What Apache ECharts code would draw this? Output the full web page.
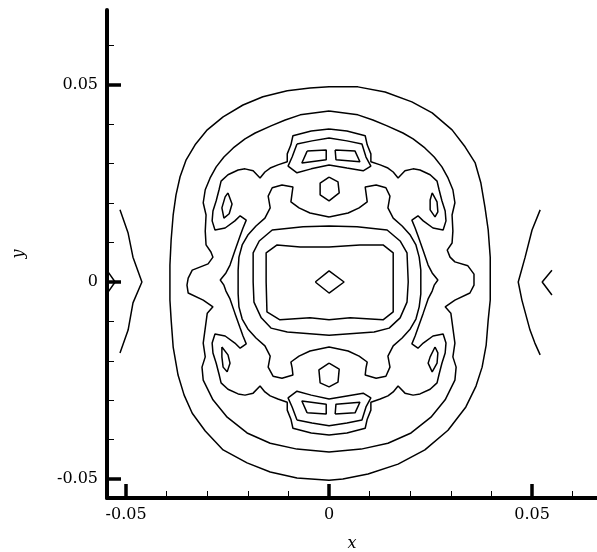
<!DOCTYPE html>
<html>
<head>
<meta charset="utf-8">
<script src="https://cdn.jsdelivr.net/npm/echarts@6/dist/echarts.min.js"></script>
<style>
  html, body { margin: 0; padding: 0; background: #fff; }
  #chart { width: 597px; height: 552px; }
</style>
</head>
<body>
<div id="chart"></div>
<script>
// Tick positions (data units)
const xMajorTicks = [-0.05, 0, 0.05];
const xMinorTicks = [-0.04, -0.03, -0.02, -0.01, 0.01, 0.02, 0.03, 0.04, 0.06];
const yMajorTicks = [-0.05, 0, 0.05];
const yMinorTicks = [-0.04, -0.03, -0.02, -0.01, 0.01, 0.02, 0.03, 0.04, 0.06];

// Contour polylines, [x, y] in data units
const ring1 = [[0,0.0495],[-0.0047,0.0492],[-0.0103,0.0485],[-0.0163,0.0470],[-0.0212,0.0449],[-0.0261,0.0419],[-0.0300,0.0386],[-0.0330,0.0348],[-0.0352,0.0310],[-0.0367,0.0267],[-0.0377,0.0221],[-0.0384,0.0170],[-0.0389,0.0107],[-0.0392,0.0043],[-0.0392,-0.0046],[-0.0389,-0.0096],[-0.0384,-0.0165],[-0.0372,-0.0236],[-0.0357,-0.0287],[-0.0337,-0.0333],[-0.0305,-0.0378],[-0.0261,-0.0426],[-0.0202,-0.0459],[-0.0145,-0.0482],[-0.0079,-0.0497],[0,-0.0503],[0.0034,-0.0500],[0.0096,-0.0487],[0.0170,-0.0462],[0.0236,-0.0426],[0.0293,-0.0376],[0.0337,-0.0317],[0.0362,-0.0264],[0.0377,-0.0216],[0.0387,-0.0160],[0.0392,-0.0096],[0.0397,-0.0046],[0.0397,0.0063],[0.0392,0.0132],[0.0384,0.0190],[0.0374,0.0251],[0.0360,0.0302],[0.0335,0.0343],[0.0303,0.0386],[0.0254,0.0429],[0.0204,0.0457],[0.0138,0.0482],[0.0071,0.0495],[0,0.0495]];

const ring2 = [[0,0.0434],[-0.0071,0.0424],[-0.0108,0.0411],[-0.0143,0.0396],[-0.0182,0.0378],[-0.0207,0.0363],[-0.0236,0.0340],[-0.0259,0.0317],[-0.0278,0.0292],[-0.0293,0.0264],[-0.0305,0.0234],[-0.0310,0.0201],[-0.0303,0.0170],[-0.0305,0.0129],[-0.0303,0.0094],[-0.0291,0.0076],[-0.0286,0.0063],[-0.0298,0.0046],[-0.0337,0.0030],[-0.0347,0.0010],[-0.0350,-0.0008],[-0.0347,-0.0028],[-0.0310,-0.0046],[-0.0286,-0.0063],[-0.0300,-0.0079],[-0.0310,-0.0155],[-0.0305,-0.0190],[-0.0313,-0.0216],[-0.0310,-0.0249],[-0.0286,-0.0299],[-0.0251,-0.0343],[-0.0202,-0.0383],[-0.0145,-0.0409],[-0.0079,-0.0424],[0,-0.0431],[0.0079,-0.0424],[0.0145,-0.0409],[0.0202,-0.0383],[0.0251,-0.0343],[0.0286,-0.0299],[0.0310,-0.0249],[0.0313,-0.0216],[0.0305,-0.0190],[0.0310,-0.0155],[0.0300,-0.0079],[0.0286,-0.0063],[0.0310,-0.0046],[0.0347,-0.0028],[0.0357,-0.0008],[0.0357,0.0020],[0.0342,0.0041],[0.0310,0.0051],[0.0298,0.0063],[0.0291,0.0081],[0.0303,0.0099],[0.0305,0.0129],[0.0303,0.0170],[0.0310,0.0201],[0.0305,0.0234],[0.0293,0.0264],[0.0278,0.0292],[0.0259,0.0317],[0.0236,0.0340],[0.0207,0.0363],[0.0182,0.0378],[0.0143,0.0396],[0.0108,0.0411],[0.0071,0.0424],[0,0.0434]];

const ring3 = [[0,0.0388],[-0.0044,0.0383],[-0.0089,0.0371],[-0.0094,0.0348],[-0.0103,0.0325],[-0.0103,0.0305],[-0.0126,0.0297],[-0.0145,0.0289],[-0.0158,0.0279],[-0.0170,0.0264],[-0.0187,0.0282],[-0.0207,0.0287],[-0.0224,0.0284],[-0.0249,0.0272],[-0.0266,0.0256],[-0.0271,0.0234],[-0.0278,0.0206],[-0.0286,0.0180],[-0.0288,0.0155],[-0.0281,0.0132],[-0.0256,0.0137],[-0.0232,0.0155],[-0.0219,0.0168],[-0.0204,0.0157],[-0.0212,0.0137],[-0.0219,0.0117],[-0.0232,0.0079],[-0.0244,0.0043],[-0.0254,0.0023],[-0.0268,0.0005],[-0.0259,-0.0008],[-0.0254,-0.0023],[-0.0244,-0.0043],[-0.0232,-0.0079],[-0.0219,-0.0117],[-0.0212,-0.0137],[-0.0204,-0.0157],[-0.0219,-0.0168],[-0.0232,-0.0155],[-0.0256,-0.0137],[-0.0281,-0.0132],[-0.0288,-0.0155],[-0.0286,-0.0180],[-0.0278,-0.0206],[-0.0271,-0.0234],[-0.0266,-0.0256],[-0.0249,-0.0272],[-0.0224,-0.0284],[-0.0207,-0.0287],[-0.0187,-0.0282],[-0.0170,-0.0264],[-0.0158,-0.0279],[-0.0145,-0.0289],[-0.0126,-0.0297],[-0.0103,-0.0305],[-0.0103,-0.0325],[-0.0094,-0.0348],[-0.0089,-0.0371],[-0.0044,-0.0383],[0,-0.0388],[0.0044,-0.0383],[0.0089,-0.0371],[0.0094,-0.0348],[0.0103,-0.0325],[0.0103,-0.0305],[0.0126,-0.0297],[0.0145,-0.0289],[0.0158,-0.0279],[0.0170,-0.0264],[0.0187,-0.0282],[0.0207,-0.0287],[0.0224,-0.0284],[0.0249,-0.0272],[0.0266,-0.0256],[0.0271,-0.0234],[0.0278,-0.0206],[0.0286,-0.0180],[0.0288,-0.0155],[0.0281,-0.0132],[0.0256,-0.0137],[0.0232,-0.0155],[0.0219,-0.0168],[0.0204,-0.0157],[0.0212,-0.0137],[0.0219,-0.0117],[0.0232,-0.0079],[0.0244,-0.0043],[0.0254,-0.0023],[0.0259,-0.0008],[0.0268,0.0005],[0.0254,0.0023],[0.0244,0.0043],[0.0232,0.0079],[0.0219,0.0117],[0.0212,0.0137],[0.0204,0.0157],[0.0219,0.0168],[0.0232,0.0155],[0.0256,0.0137],[0.0281,0.0132],[0.0288,0.0155],[0.0286,0.0180],[0.0278,0.0206],[0.0271,0.0234],[0.0266,0.0256],[0.0249,0.0272],[0.0224,0.0284],[0.0207,0.0287],[0.0187,0.0282],[0.0170,0.0264],[0.0158,0.0279],[0.0145,0.0289],[0.0126,0.0297],[0.0103,0.0305],[0.0103,0.0325],[0.0094,0.0348],[0.0089,0.0371],[0.0044,0.0383],[0,0.0388]];

const ring4 = [[0,0.0165],[-0.0047,0.0175],[-0.0074,0.0188],[-0.0094,0.0203],[-0.0091,0.0226],[-0.0089,0.0241],[-0.0116,0.0246],[-0.0140,0.0239],[-0.0150,0.0218],[-0.0145,0.0188],[-0.0158,0.0162],[-0.0180,0.0142],[-0.0200,0.0119],[-0.0214,0.0094],[-0.0222,0.0063],[-0.0224,0.0030],[-0.0224,0],[-0.0224,-0.0030],[-0.0222,-0.0063],[-0.0214,-0.0094],[-0.0200,-0.0119],[-0.0180,-0.0142],[-0.0158,-0.0162],[-0.0145,-0.0188],[-0.0150,-0.0216],[-0.0138,-0.0239],[-0.0116,-0.0244],[-0.0089,-0.0236],[-0.0091,-0.0218],[-0.0094,-0.0203],[-0.0074,-0.0188],[-0.0047,-0.0175],[0,-0.0165],[0.0047,-0.0175],[0.0074,-0.0188],[0.0094,-0.0203],[0.0091,-0.0218],[0.0089,-0.0236],[0.0116,-0.0244],[0.0140,-0.0239],[0.0150,-0.0216],[0.0145,-0.0188],[0.0158,-0.0162],[0.0180,-0.0142],[0.0200,-0.0119],[0.0214,-0.0094],[0.0222,-0.0063],[0.0226,-0.0030],[0.0226,0],[0.0226,0.0030],[0.0222,0.0063],[0.0214,0.0094],[0.0200,0.0119],[0.0180,0.0142],[0.0158,0.0162],[0.0145,0.0188],[0.0150,0.0218],[0.0140,0.0239],[0.0116,0.0246],[0.0089,0.0241],[0.0091,0.0226],[0.0094,0.0203],[0.0074,0.0188],[0.0047,0.0175],[0,0.0165]];

const ring5 = [[-0.0187,0],[-0.0187,0.0074],[-0.0172,0.0104],[-0.0140,0.0132],[-0.0064,0.0140],[0,0.0142],[0.0069,0.0140],[0.0143,0.0132],[0.0175,0.0104],[0.0192,0.0074],[0.0195,0],[0.0192,-0.0051],[0.0175,-0.0091],[0.0148,-0.0117],[0.0111,-0.0127],[0,-0.0135],[-0.0103,-0.0127],[-0.0143,-0.0117],[-0.0167,-0.0091],[-0.0185,-0.0051],[-0.0187,0]];

const ring6 = [[-0.0155,0],[-0.0155,0.0074],[-0.0128,0.0094],[-0.0071,0.0089],[0,0.0089],[0.0076,0.0094],[0.0133,0.0094],[0.0158,0.0074],[0.0158,0],[0.0158,-0.0076],[0.0133,-0.0096],[0.0052,-0.0091],[0,-0.0096],[-0.0047,-0.0091],[-0.0121,-0.0096],[-0.0153,-0.0076],[-0.0155,0]];

const centerDiamond = [[-0.0034,0],[0,0.0028],[0.0037,0],[0,-0.0028],[-0.0034,0]];

const eyeRingTop = [[-0.0079,0.0350],[-0.0042,0.0358],[0,0.0365],[0.0044,0.0358],[0.0081,0.0350],[0.0091,0.0317],[0.0103,0.0294],[0.0084,0.0282],[0.0044,0.0289],[0,0.0297],[-0.0044,0.0287],[-0.0079,0.0277],[-0.0101,0.0294],[-0.0091,0.0317],[-0.0079,0.0350]];
const eyeRingBottom = [[-0.0079,-0.0350],[-0.0042,-0.0358],[0,-0.0365],[0.0044,-0.0358],[0.0081,-0.0350],[0.0091,-0.0317],[0.0103,-0.0294],[0.0084,-0.0282],[0.0044,-0.0289],[0,-0.0297],[-0.0044,-0.0287],[-0.0079,-0.0277],[-0.0101,-0.0294],[-0.0091,-0.0317],[-0.0079,-0.0350]];

const cellTopLeft = [[-0.0054,0.0332],[-0.0007,0.0335],[-0.0007,0.0310],[-0.0067,0.0302],[-0.0054,0.0332]];
const cellTopRight = [[0.0015,0.0335],[0.0064,0.0332],[0.0076,0.0305],[0.0017,0.0310],[0.0015,0.0335]];
const cellBottomLeft = [[-0.0054,-0.0332],[-0.0007,-0.0335],[-0.0007,-0.0310],[-0.0067,-0.0302],[-0.0054,-0.0332]];
const cellBottomRight = [[0.0015,-0.0335],[0.0064,-0.0332],[0.0076,-0.0305],[0.0017,-0.0310],[0.0015,-0.0335]];

const peakTop = [[0,0.0266],[0.0022,0.0254],[0.0025,0.0226],[0,0.0206],[-0.0022,0.0221],[-0.0022,0.0251],[0,0.0266]];
const peakBottom = [[0,-0.0206],[0.0025,-0.0221],[0.0022,-0.0254],[0,-0.0266],[-0.0022,-0.0256],[-0.0025,-0.0223],[0,-0.0206]];

const lobeTopLeft = [[-0.0249,0.0226],[-0.0239,0.0198],[-0.0246,0.0173],[-0.0259,0.0162],[-0.0264,0.0188],[-0.0256,0.0216],[-0.0249,0.0226]];
const lobeTopRight = [[0.0254,0.0226],[0.0266,0.0203],[0.0268,0.0178],[0.0261,0.0165],[0.0249,0.0183],[0.0249,0.0208],[0.0254,0.0226]];
const lobeBottomLeft = [[-0.0264,-0.0165],[-0.0249,-0.0185],[-0.0244,-0.0206],[-0.0251,-0.0228],[-0.0261,-0.0216],[-0.0264,-0.0190],[-0.0264,-0.0165]];
const lobeBottomRight = [[0.0261,-0.0165],[0.0268,-0.0180],[0.0266,-0.0206],[0.0254,-0.0228],[0.0244,-0.0206],[0.0249,-0.0190],[0.0261,-0.0165]];

const sideLeft = [[-0.0515,0.0183],[-0.0495,0.0124],[-0.0483,0.0063],[-0.0461,0],[-0.0483,-0.0053],[-0.0495,-0.0122],[-0.0515,-0.0180]];
const sideRight = [[0.0520,0.0183],[0.0500,0.0132],[0.0483,0.0063],[0.0466,0],[0.0475,-0.0046],[0.0495,-0.0122],[0.0507,-0.0155],[0.0520,-0.0185]];
const edgeLeft = [[-0.0544,0.0025],[-0.0527,0],[-0.0544,-0.0025]];
const edgeRight = [[0.0549,0.0030],[0.0525,0],[0.0549,-0.0033]];

const contours = [ring1, ring2, ring3, ring4, ring5, ring6, centerDiamond,
  eyeRingTop, eyeRingBottom, cellTopLeft, cellTopRight, cellBottomLeft, cellBottomRight,
  peakTop, peakBottom, lobeTopLeft, lobeTopRight, lobeBottomLeft, lobeBottomRight,
  sideLeft, sideRight, edgeLeft, edgeRight];

const X_MIN = -0.0547, X_MAX = 0.0660;
const Y_MIN = -0.0548, Y_MAX = 0.0690;

const serif = 'DejaVu Serif';
const labelStyle = { color: '#000', fontFamily: serif, fontSize: 16 };

function majorAxis(kind, ticks, extra) {
  return Object.assign({
    type: 'value',
    min: kind === 'x' ? X_MIN : Y_MIN,
    max: kind === 'x' ? X_MAX : Y_MAX,
    position: kind === 'x' ? 'bottom' : 'left',
    axisLine: { show: true, onZero: false, lineStyle: { color: '#000', width: 4 } },
    axisTick: { show: true, inside: true, length: 14, customValues: ticks,
      lineStyle: { color: '#000', width: 3.5 } },
    axisLabel: Object.assign({ show: true, customValues: ticks, margin: 9 }, labelStyle),
    splitLine: { show: false },
    minorTick: { show: false }
  }, extra);
}

function minorAxis(kind, ticks) {
  return {
    type: 'value',
    min: kind === 'x' ? X_MIN : Y_MIN,
    max: kind === 'x' ? X_MAX : Y_MAX,
    position: kind === 'x' ? 'bottom' : 'left',
    axisLine: { show: false, onZero: false },
    axisTick: { show: true, inside: true, length: 7, customValues: ticks,
      lineStyle: { color: '#000', width: 1 } },
    axisLabel: { show: false },
    splitLine: { show: false }
  };
}

const chart = echarts.init(document.getElementById('chart'), null, { renderer: 'canvas' });

chart.setOption({
  animation: false,
  backgroundColor: '#fff',
  grid: { left: 107, top: 10, right: 0, bottom: 54, containLabel: false, outerBoundsMode: 'none' },
  xAxis: [
    majorAxis('x', xMajorTicks, {
      name: 'x', nameLocation: 'middle', nameGap: 38,
      nameTextStyle: { color: '#000', fontFamily: serif, fontStyle: 'italic', fontSize: 16 }
    }),
    minorAxis('x', xMinorTicks)
  ],
  yAxis: [
    majorAxis('y', yMajorTicks, {
      name: 'y', nameLocation: 'middle', nameGap: 80, nameRotate: 90,
      nameTextStyle: { color: '#000', fontFamily: serif, fontStyle: 'italic', fontSize: 16 }
    }),
    minorAxis('y', yMinorTicks)
  ],
  series: contours.map(function (pts) {
    return {
      type: 'line',
      xAxisIndex: 0,
      yAxisIndex: 0,
      data: pts,
      showSymbol: false,
      symbol: 'none',
      silent: true,
      clip: true,
      lineStyle: { color: '#000', width: 1.5 }
    };
  })
});
</script>
</body>
</html>
